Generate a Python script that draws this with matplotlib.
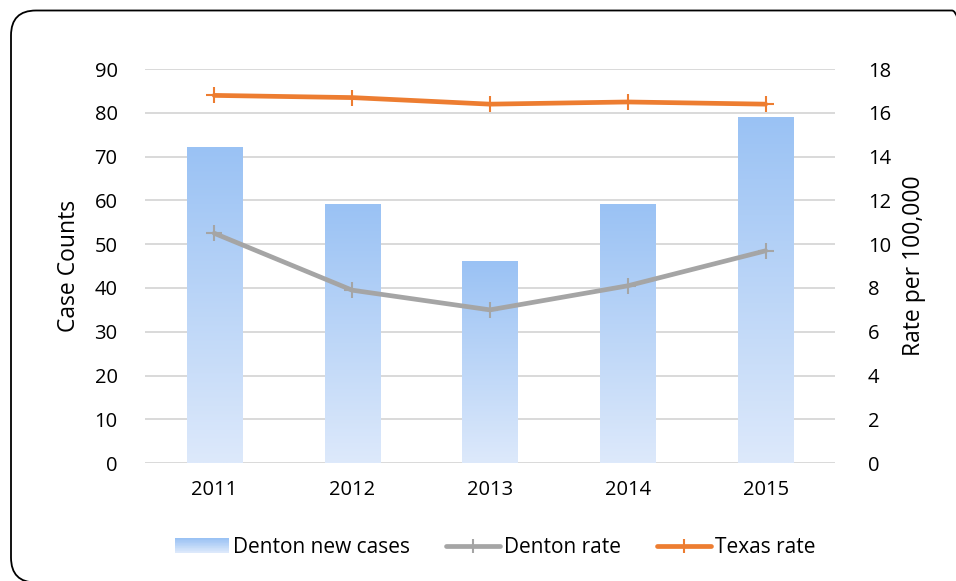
import numpy as np
import matplotlib
matplotlib.use("Agg")
import matplotlib.pyplot as plt
from matplotlib.colors import LinearSegmentedColormap
from matplotlib.patches import FancyBboxPatch, Rectangle
from matplotlib.lines import Line2D
from matplotlib.legend_handler import HandlerBase

plt.rcParams['font.family'] = ['Open Sans', 'DejaVu Sans']

# data
years = ['2011', '2012', '2013', '2014', '2015']
denton_cases = [72, 59, 46, 59, 79]
denton_rate = [10.5, 7.9, 7.0, 8.1, 9.7]
texas_rate = [16.8, 16.7, 16.4, 16.5, 16.4]

bar_top = '#9AC2F4'
bar_bottom = '#DDE9FB'
grey = '#A5A5A5'
orange = '#ED7D31'

grad = LinearSegmentedColormap.from_list('bluegrad', [bar_bottom, bar_top])


class GradientHandler(HandlerBase):
    # legend patch with a vertical gradient like the bars
    def create_artists(self, legend, orig_handle, xdescent, ydescent,
                       width, height, fontsize, trans):
        n = 20
        arts = []
        for i in range(n):
            r = Rectangle((-xdescent, -ydescent + height * i / n), width, height / n + 0.3,
                          facecolor=grad(i / (n - 1)), edgecolor='none', transform=trans)
            arts.append(r)
        return arts


W, H = 956, 581
fig = plt.figure(figsize=(W / 100, H / 100), dpi=100)

# rounded border around the chart, drawn in pixel coords (runs off the right/bottom edge)
bg = fig.add_axes([0, 0, 1, 1])
bg.set_xlim(0, W)
bg.set_ylim(0, H)
bg.axis('off')
bg.add_patch(FancyBboxPatch((11, -1.5), 966, 572, boxstyle='round,pad=0,rounding_size=25',
                            facecolor='none', edgecolor='black', linewidth=1.3))

ax = fig.add_axes([0.152, 0.203, 0.721, 0.678])
ax2 = ax.twinx()

x = np.arange(len(years))
w = 0.4

# gradient bars
grad_img = np.linspace(1, 0, 256).reshape(-1, 1)
for xi, h in zip(x, denton_cases):
    ax.imshow(grad_img, cmap=grad, aspect='auto', vmin=0, vmax=1,
              extent=[xi - w / 2, xi + w / 2, 0, h], zorder=2)
ax.set_xlim(-0.5, len(years) - 0.5)
ax.set_ylim(0, 90)

ax.set_yticks(np.arange(0, 91, 10))
ax.set_xticks(x)
ax.set_xticklabels(years)
ax.grid(axis='y', color='#D9D9D9', linewidth=1.4, zorder=0)
ax.set_axisbelow(True)
ax.set_ylabel('Case Counts', fontsize=16.5, labelpad=10)

ax2.plot(x, denton_rate, color=grey, linewidth=3.4, marker='+', markersize=12,
         markeredgewidth=1.5, solid_capstyle='round', zorder=3)
ax2.plot(x, texas_rate, color=orange, linewidth=3.4, marker='+', markersize=12,
         markeredgewidth=1.5, solid_capstyle='round', zorder=3)
ax2.set_ylim(0, 18)
ax2.set_yticks(np.arange(0, 19, 2))
ax2.set_ylabel('Rate per 100,000', fontsize=16.5, labelpad=8)

for a in (ax, ax2):
    for s in a.spines.values():
        s.set_visible(False)
    a.tick_params(length=0, labelsize=14.5, colors='#000000')
ax.tick_params(axis='y', pad=20)
ax2.tick_params(axis='y', pad=24)
ax.tick_params(axis='x', pad=12)

handles = [
    Rectangle((0, 0), 1, 1),
    Line2D([], [], color=grey, linewidth=3.4, marker='|', markersize=10, markeredgewidth=1.5,
           solid_capstyle='round'),
    Line2D([], [], color=orange, linewidth=3.4, marker='|', markersize=10, markeredgewidth=1.5,
           solid_capstyle='round'),
]
fig.legend(handles, ['Denton new cases', 'Denton rate', 'Texas rate'],
           loc='center', bbox_to_anchor=(0.518, 0.058), ncol=3, frameon=False,
           fontsize=15, handlelength=2.6, handletextpad=0.2, columnspacing=1.7,
           handler_map={Rectangle: GradientHandler()})

fig.savefig('out.png', dpi=100)
